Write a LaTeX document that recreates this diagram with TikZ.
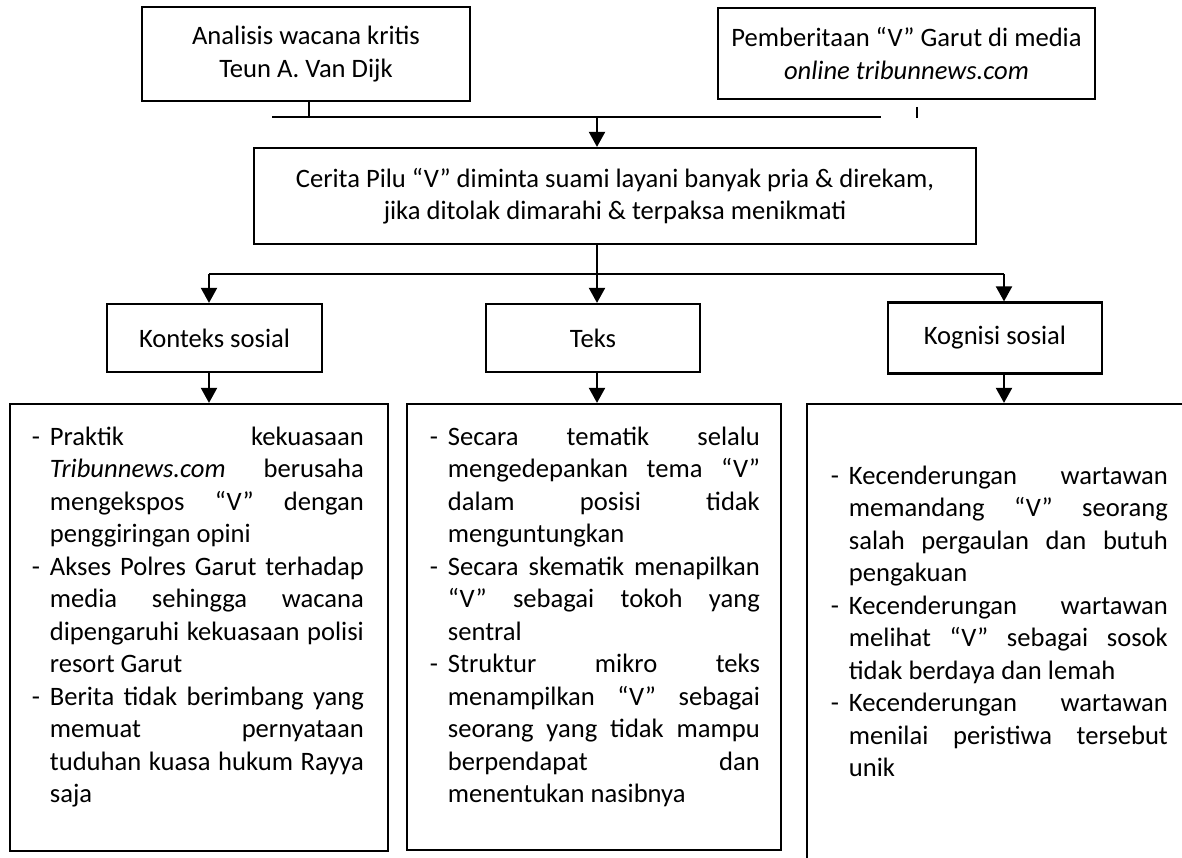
\documentclass[tikz,border=0pt]{standalone}
\usepackage{fontspec}
\setmainfont{Carlito}
\usetikzlibrary{arrows.meta, positioning}

\tolerance=10000
\hbadness=10000

% butir daftar dengan tanda "-" dan indentasi gantung
\newcommand{\butir}{\par\noindent\hangindent=18pt\hangafter=1\makebox[18pt][l]{-}\strut}

\begin{document}
\begin{tikzpicture}[x=1pt,y=-1pt,line width=2pt,>={Triangle[length=15pt,width=16pt]},
    kotak/.style={draw,line width=2.2pt,align=center,inner sep=0pt,font=\fontsize{26.6}{32.5}\selectfont},
    isi/.style={anchor=north west,inner sep=0pt,text width=#1,align=justify,font=\fontsize{26.6}{32.5}\selectfont}]
    \useasboundingbox (0,0) rectangle (1182,858);

    \node[kotak,minimum width=328pt,minimum height=94pt] (teori) at (306,54) {Analisis wacana kritis\\Teun A. Van Dijk};
    \node[kotak,minimum width=377pt,minimum height=91pt] (media) at (906.5,53.5) {Pemberitaan “V” Garut di media\\\textit{online tribunnews.com}};
    \node[kotak,minimum width=722pt,minimum height=96pt] (kasus) at (615,196) {Cerita Pilu “V” diminta suami layani banyak pria \& direkam,\\jika ditolak dimarahi \& terpaksa menikmati};

    \node[kotak,minimum width=215pt,minimum height=68pt] (konteks) at (214.5,338) {Konteks sosial};
    \node[kotak,minimum width=214pt,minimum height=68pt] (teks) at (593,338) {Teks};
    \node[kotak,minimum width=214pt,minimum height=71pt] (kognisi) at (995,338) {Kognisi sosial};

    \node[kotak,minimum width=378pt,minimum height=447pt] (isikonteks) at (199,627.5) {};
    \node[kotak,minimum width=374pt,minimum height=446pt] (isiteks) at (594,627) {};
    \begin{scope}
        \clip (0,0) rectangle (1182,858);
        \node[kotak,minimum width=400pt,minimum height=472pt] (isikognisi) at (1007,640) {};
    \end{scope}

    \node[isi=332pt,below right=9pt and 22pt of isikonteks.north west] (txkonteks) {%
        \butir Praktik kekuasaan\linebreak \textit{Tribunnews.com} berusaha\linebreak mengekspos “V” dengan\linebreak penggiringan opini
        \butir Akses Polres Garut terhadap\linebreak media sehingga wacana\linebreak dipengaruhi kekuasaan polisi\linebreak resort Garut
        \butir Berita tidak berimbang yang\linebreak memuat pernyataan\linebreak tuduhan kuasa hukum Rayya\linebreak saja\par};
    \node[isi=330pt,below right=9pt and 23pt of isiteks.north west] (txteks) {%
        \butir Secara tematik selalu\linebreak mengedepankan tema “V”\linebreak dalam posisi tidak\linebreak menguntungkan
        \butir Secara skematik menapilkan\linebreak “V” sebagai tokoh yang\linebreak sentral
        \butir Struktur mikro teks\linebreak menampilkan “V” sebagai\linebreak seorang yang tidak mampu\linebreak berpendapat dan\linebreak menentukan nasibnya\par};
    \node[isi=337pt,below right=48pt and 24pt of isikognisi.north west] (txkognisi) {%
        \butir Kecenderungan wartawan\linebreak memandang “V” seorang\linebreak salah pergaulan dan butuh\linebreak pengakuan
        \butir Kecenderungan wartawan\linebreak melihat “V” sebagai sosok\linebreak tidak berdaya dan lemah
        \butir Kecenderungan wartawan\linebreak menilai peristiwa tersebut\linebreak unik\par};

    % garis penghubung atas
    \coordinate (garis kiri) at (272,117);
    \coordinate (garis kanan) at (881,117);
    \coordinate (tengah) at (597,117);
    \coordinate (tik kiri) at (309,117);
    \coordinate (tik kanan) at (917,118);
    \draw (garis kiri) -- (garis kanan);
    \draw (tik kiri |- teori.south) -- (tik kiri);
    \draw (917,107) -- (tik kanan);
    \draw[->] (tengah) -- (tengah |- kasus.north);

    % cabang ke tiga dimensi
    \coordinate (cabang) at (597,274);
    \coordinate (cabang kiri) at (209,274);
    \coordinate (cabang kanan) at (1004,274);
    \draw (tengah |- kasus.south) -- (cabang);
    \draw (cabang kiri) -- (cabang kanan);
    \draw[->] (cabang kiri) -- (cabang kiri |- konteks.north);
    \draw[->] (cabang) -- (cabang |- teks.north);
    \draw[->] (cabang kanan) -- (cabang kanan |- kognisi.north);
    \draw[->] (cabang kiri |- konteks.south) -- (cabang kiri |- isikonteks.north);
    \draw[->] (cabang |- teks.south) -- (cabang |- isiteks.north);
    \draw[->] (cabang kanan |- kognisi.south) -- (cabang kanan |- isikognisi.north);
\end{tikzpicture}
\end{document}
